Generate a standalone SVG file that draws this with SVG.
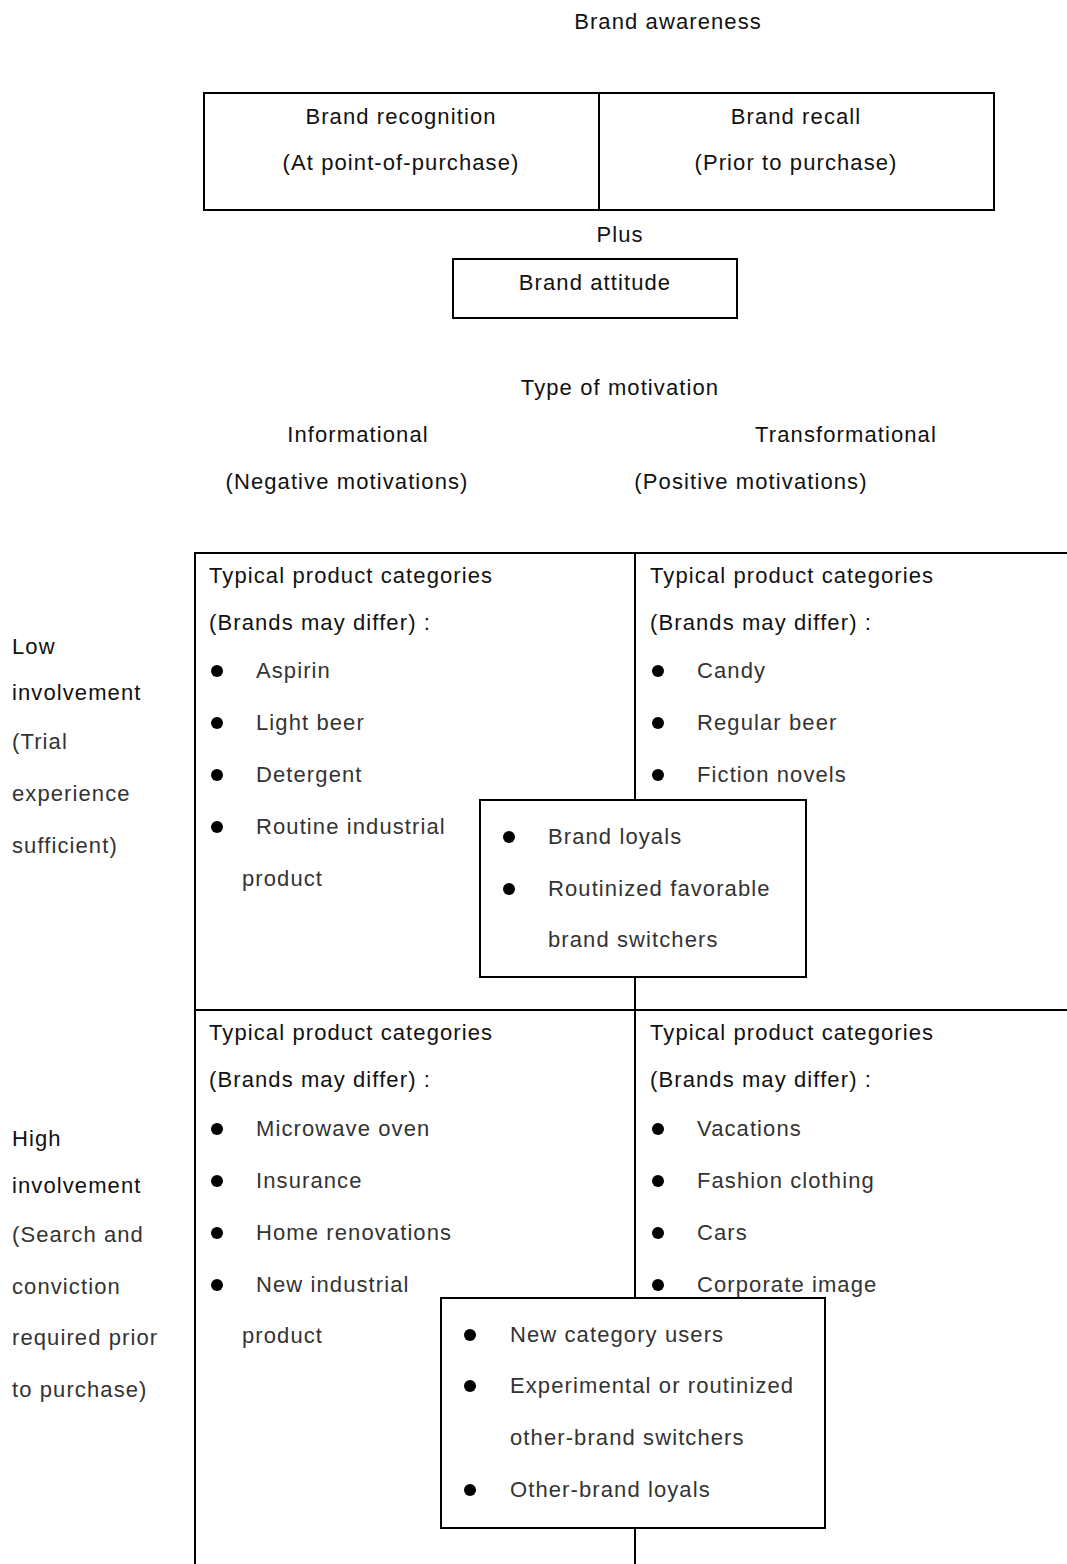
<svg xmlns="http://www.w3.org/2000/svg" width="1067" height="1564" viewBox="0 0 1067 1564">
<style>
text{font-family:"Liberation Sans",Arial,sans-serif;font-size:22px;letter-spacing:1.1px;fill:#111}
.c{text-anchor:middle}
.it{fill:#333}
.ln{stroke:#000;stroke-width:2;fill:none}
.bx{stroke:#000;stroke-width:2;fill:#fff}
.dot{fill:#000}
</style>
<rect width="1067" height="1564" fill="#fff"/>
<g id="title"><text class="c" x="668" y="29">Brand awareness</text></g>
<g id="awareness-box">
<rect class="ln" x="204" y="93" width="790" height="117"/>
<line class="ln" x1="599" y1="93" x2="599" y2="210"/>
<text class="c" x="401" y="124">Brand recognition</text>
<text class="c" x="401" y="170">(At point-of-purchase)</text>
<text class="c" x="796" y="124">Brand recall</text>
<text class="c" x="796" y="170">(Prior to purchase)</text>
</g>
<g id="plus"><text class="c" x="620" y="242">Plus</text></g>
<g id="attitude">
<rect class="ln" x="453" y="259" width="284" height="59"/>
<text class="c" x="595" y="290">Brand attitude</text>
</g>
<g id="motivation">
<text class="c" x="620" y="395">Type of motivation</text>
<text class="c" x="358" y="442">Informational</text>
<text class="c" x="347" y="489">(Negative motivations)</text>
<text class="c" x="846" y="442">Transformational</text>
<text class="c" x="751" y="489">(Positive motivations)</text>
</g>
<g id="connectors">
<line class="ln" x1="195" y1="553" x2="1067" y2="553"/>
<line class="ln" x1="195" y1="1010" x2="1067" y2="1010"/>
<line class="ln" x1="195" y1="552" x2="195" y2="1564"/>
<line class="ln" x1="635" y1="553" x2="635" y2="1564"/>
</g>
<g id="row-labels">
<text x="12" y="654">Low</text>
<text x="12" y="700">involvement</text>
<text class="it" x="12" y="749">(Trial</text>
<text class="it" x="12" y="801">experience</text>
<text class="it" x="12" y="853">sufficient)</text>
<text x="12" y="1146">High</text>
<text x="12" y="1193">involvement</text>
<text class="it" x="12" y="1242">(Search and</text>
<text class="it" x="12" y="1294">conviction</text>
<text class="it" x="12" y="1345">required prior</text>
<text class="it" x="12" y="1397">to purchase)</text>
</g>
<g id="cell-low-info">
<text x="209" y="583">Typical product categories</text>
<text x="209" y="630">(Brands may differ) :</text>
<circle class="dot" cx="217" cy="671" r="6"/><text class="it" x="256" y="678">Aspirin</text>
<circle class="dot" cx="217" cy="723" r="6"/><text class="it" x="256" y="730">Light beer</text>
<circle class="dot" cx="217" cy="775" r="6"/><text class="it" x="256" y="782">Detergent</text>
<circle class="dot" cx="217" cy="827" r="6"/><text class="it" x="256" y="834">Routine industrial</text>
<text class="it" x="242" y="886">product</text>
</g>
<g id="cell-low-trans">
<text x="650" y="583">Typical product categories</text>
<text x="650" y="630">(Brands may differ) :</text>
<circle class="dot" cx="658" cy="671" r="6"/><text class="it" x="697" y="678">Candy</text>
<circle class="dot" cx="658" cy="723" r="6"/><text class="it" x="697" y="730">Regular beer</text>
<circle class="dot" cx="658" cy="775" r="6"/><text class="it" x="697" y="782">Fiction novels</text>
</g>
<g id="audience-low">
<rect class="bx" x="480" y="800" width="326" height="177"/>
<circle class="dot" cx="509" cy="837" r="6"/><text class="it" x="548" y="844">Brand loyals</text>
<circle class="dot" cx="509" cy="889" r="6"/><text class="it" x="548" y="896">Routinized favorable</text>
<text class="it" x="548" y="947">brand switchers</text>
</g>
<g id="cell-high-info">
<text x="209" y="1040">Typical product categories</text>
<text x="209" y="1087">(Brands may differ) :</text>
<circle class="dot" cx="217" cy="1129" r="6"/><text class="it" x="256" y="1136">Microwave oven</text>
<circle class="dot" cx="217" cy="1181" r="6"/><text class="it" x="256" y="1188">Insurance</text>
<circle class="dot" cx="217" cy="1233" r="6"/><text class="it" x="256" y="1240">Home renovations</text>
<circle class="dot" cx="217" cy="1285" r="6"/><text class="it" x="256" y="1292">New industrial</text>
<text class="it" x="242" y="1343">product</text>
</g>
<g id="cell-high-trans">
<text x="650" y="1040">Typical product categories</text>
<text x="650" y="1087">(Brands may differ) :</text>
<circle class="dot" cx="658" cy="1129" r="6"/><text class="it" x="697" y="1136">Vacations</text>
<circle class="dot" cx="658" cy="1181" r="6"/><text class="it" x="697" y="1188">Fashion clothing</text>
<circle class="dot" cx="658" cy="1233" r="6"/><text class="it" x="697" y="1240">Cars</text>
<circle class="dot" cx="658" cy="1285" r="6"/><text class="it" x="697" y="1292">Corporate image</text>
</g>
<g id="audience-high">
<rect class="bx" x="441" y="1298" width="384" height="230"/>
<circle class="dot" cx="470" cy="1335" r="6"/><text class="it" x="510" y="1342">New category users</text>
<circle class="dot" cx="470" cy="1386" r="6"/><text class="it" x="510" y="1393">Experimental or routinized</text>
<text class="it" x="510" y="1445">other-brand switchers</text>
<circle class="dot" cx="470" cy="1490" r="6"/><text class="it" x="510" y="1497">Other-brand loyals</text>
</g>
</svg>
